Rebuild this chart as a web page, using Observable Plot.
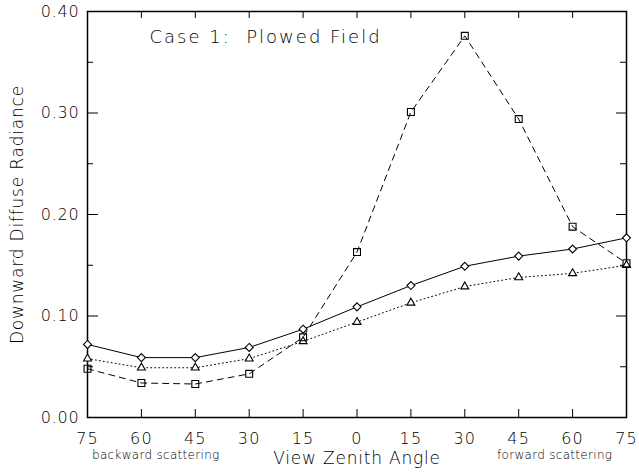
<!DOCTYPE html>
<html>
<head>
<meta charset="utf-8">
<script src="https://cdn.jsdelivr.net/npm/d3@7"></script>
<script src="https://cdn.jsdelivr.net/npm/@observablehq/plot@0.6"></script>
<style>
  html, body { margin: 0; padding: 0; background: #fff; }
  #chart svg { display: block; }
</style>
</head>
<body>
<div id="chart"></div>
<script>
// View zenith angle: negative = backward scattering side, positive = forward
const angles = [-75, -60, -45, -30, -15, 0, 15, 30, 45, 60, 75];
const diamondSeries  = [0.072, 0.059, 0.059, 0.069, 0.087, 0.109, 0.130, 0.149, 0.159, 0.166, 0.177];
const triangleSeries = [0.058, 0.049, 0.049, 0.058, 0.075, 0.094, 0.113, 0.129, 0.138, 0.142, 0.150];
const squareSeries   = [0.048, 0.034, 0.033, 0.043, 0.079, 0.163, 0.301, 0.376, 0.294, 0.188, 0.152];

const xTicks = [-75, -60, -45, -30, -15, 0, 15, 30, 45, 60, 75];
const yTicks = [0.00, 0.10, 0.20, 0.30, 0.40];
const yMinorTicks = [0.05, 0.15, 0.25, 0.35];

const titleText = "Case 1:\u00a0\u00a0Plowed Field";
const xLabel = "View Zenith Angle";
const yLabel = "Downward Diffuse Radiance";
const sideNotes = [
  {label: "backward scattering", angle: -56},
  {label: "forward scattering", angle: 55}
];

const toRows = (vals) => angles.map((a, i) => ({angle: a, value: vals[i]}));
const dRows = toRows(diamondSeries);
const tRows = toRows(triangleSeries);
const sRows = toRows(squareSeries);

const font = "DejaVu Sans";

const plot = Plot.plot({
  width: 639,
  height: 473,
  marginLeft: 87,
  marginRight: 13,
  marginTop: 11,
  marginBottom: 56,
  style: {fontFamily: font, fontWeight: 300, background: "#fff", color: "#000"},
  x: {domain: [-75, 75]},
  y: {domain: [0, 0.40]},
  marks: [
    Plot.frame({stroke: "#000", strokeWidth: 1.5}),
    Plot.axisX({ticks: xTicks, tickSize: 0, tickPadding: 15, tickFormat: d => Math.abs(d),
                fontSize: 16, label: null, className: "xt"}),
    Plot.axisY({ticks: yTicks, tickSize: 0, tickPadding: 8, tickFormat: d3.format(".2f"),
                fontSize: 16, label: null, className: "yt"}),
    // inward ticks
    Plot.ruleX(xTicks, {x: d => d, insetTop: 398, stroke: "#000", strokeWidth: 1}),
    Plot.ruleX(xTicks, {x: d => d, insetBottom: 399, stroke: "#000", strokeWidth: 1}),
    Plot.ruleY(yTicks, {y: d => d, insetRight: 528, stroke: "#000", strokeWidth: 1}),
    Plot.ruleY(yMinorTicks, {y: d => d, insetRight: 533, stroke: "#000", strokeWidth: 1}),
    Plot.ruleY(yTicks, {y: d => d, insetLeft: 529, stroke: "#000", strokeWidth: 1}),
    Plot.ruleY(yMinorTicks, {y: d => d, insetLeft: 533, stroke: "#000", strokeWidth: 1}),
    // series
    Plot.line(dRows, {x: "angle", y: "value", stroke: "#000", strokeWidth: 1}),
    Plot.line(tRows, {x: "angle", y: "value", stroke: "#000", strokeWidth: 1, strokeDasharray: "1,3"}),
    Plot.line(sRows, {x: "angle", y: "value", stroke: "#000", strokeWidth: 1, strokeDasharray: "6,5"}),
    Plot.dot(dRows, {x: "angle", y: "value", symbol: "diamond2", r: 3.6, stroke: "#000", fill: "#fff", strokeWidth: 1.1}),
    Plot.dot(tRows, {x: "angle", y: "value", symbol: "triangle2", r: 3.8, stroke: "#000", fill: "#fff", strokeWidth: 1.1}),
    Plot.dot(sRows, {x: "angle", y: "value", symbol: "square2", r: 4.4, stroke: "#000", fill: "none", strokeWidth: 1.1}),
    // title inside plot
    Plot.text([titleText], {frameAnchor: "top-left", dx: 62, dy: 19, text: d => d, textAnchor: "start",
      fontSize: 18, fill: "#000", lineAnchor: "top", className: "ttl"}),
    // axis titles
    Plot.text([xLabel], {frameAnchor: "bottom", dy: 46, text: d => d, fontSize: 17, fill: "#000", className: "lbl"}),
    Plot.text([yLabel], {frameAnchor: "left", dx: -70, rotate: -90, textAnchor: "middle", text: d => d,
      fontSize: 17, fill: "#000", className: "lbl"}),
    Plot.text(sideNotes, {x: "angle", frameAnchor: "bottom", dy: 41, text: "label", fontSize: 12, fill: "#000", className: "note"})
  ]
});

const svg = d3.select(plot);
svg.selectAll(".xt text").attr("letter-spacing", "1.2");
svg.selectAll(".yt text, .lbl text").attr("letter-spacing", "0.8");
svg.selectAll(".ttl text").attr("letter-spacing", "2");
svg.selectAll(".note text").attr("letter-spacing", "0.3");
document.getElementById("chart").appendChild(plot);
</script>
</body>
</html>
